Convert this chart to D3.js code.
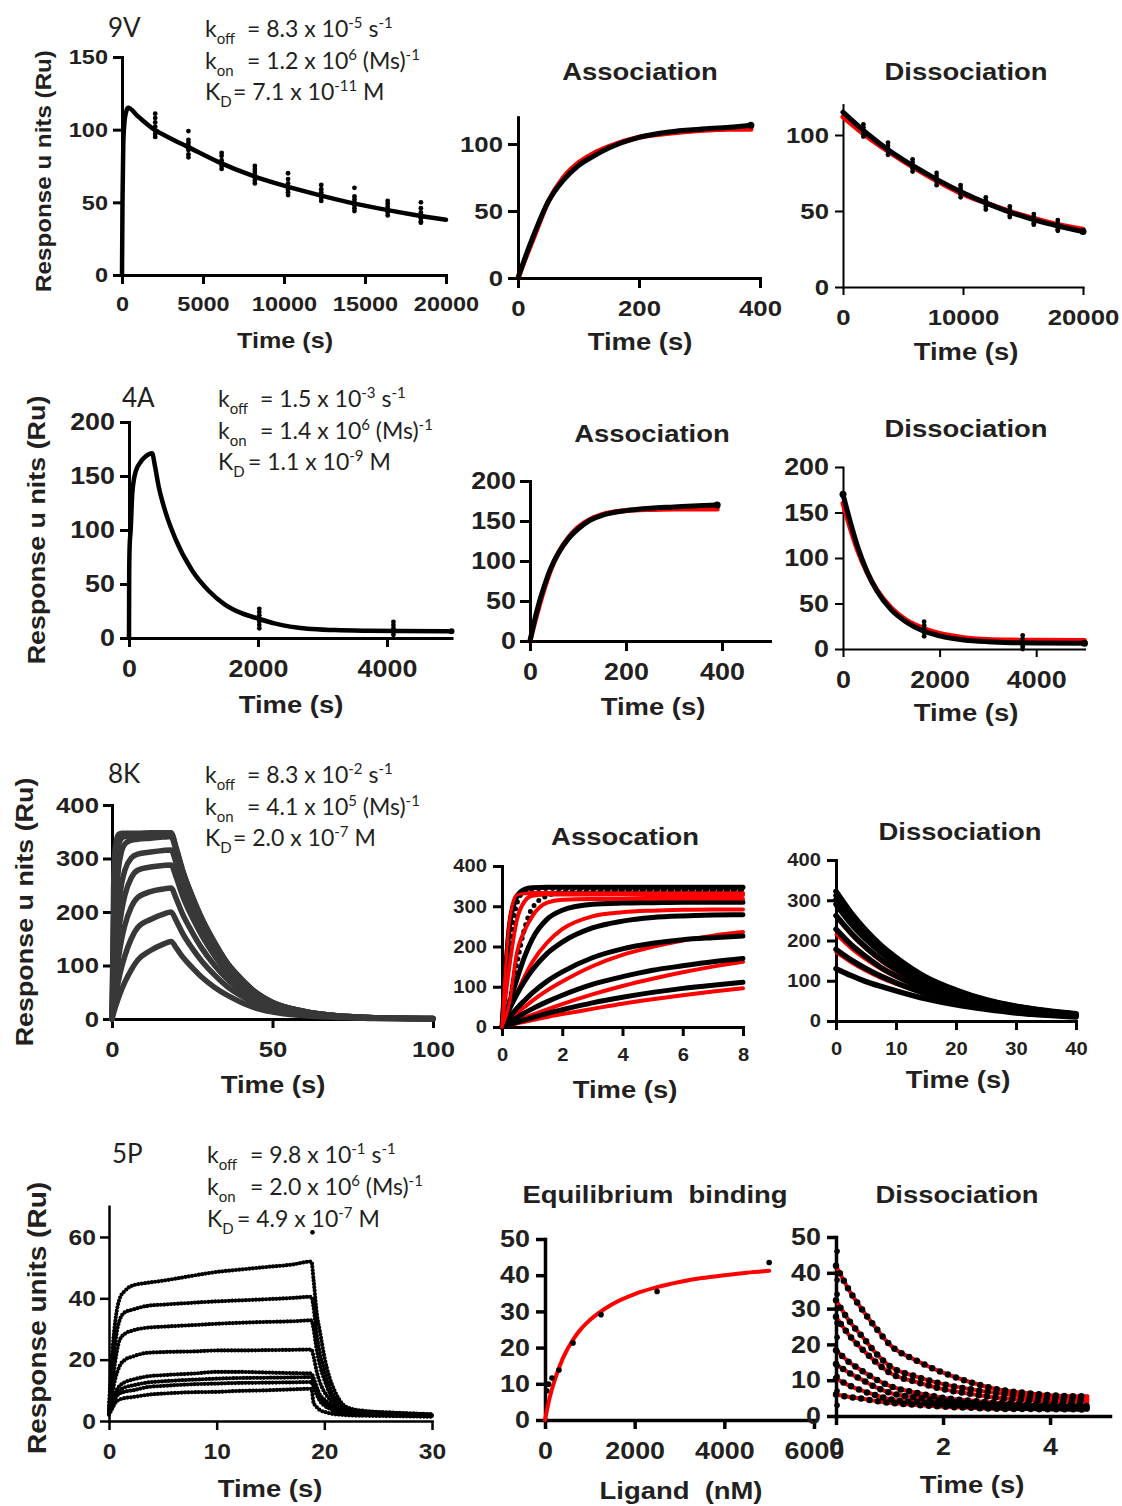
<!DOCTYPE html>
<html><head><meta charset="utf-8">
<script src="https://cdn.jsdelivr.net/npm/d3@7"></script>
<style>
body{margin:0;background:#fff}
svg{display:block}
</style></head><body>
<svg id="c" width="1122" height="1506"></svg>
<script>
// ---------------- DATA ----------------
// Row 1 : 9V
const t9vFull = [0, 30, 80, 150, 250, 370, 1000, 2000, 3000, 4000, 6000, 8000, 10000, 12000, 14000, 16000, 18000, 20000];
const r9vFull = [0, 50, 90, 105, 112, 115, 109, 100, 94, 88.5, 77.5, 68.5, 61.5, 55.5, 50, 45.5, 41.5, 38];
const c9vT = [2050, 4100, 6150, 8200, 10250, 12300, 14350, 16400, 18450];
const c9vV = [[111,108,105,102,99,97,95],[99,93,91,89,86,83,81],[84,82,79,77,75,73],[75,73,71,69,67,65,63],[70,66,63,61,59,57,55],[62,59,57,55,53,51],[60,54,52,50,48,46,44],[51,49,47,45,43,41],[50,46,43,41,39,37,36]];
const t9vA = [0, 10, 25, 50, 75, 100, 125, 150, 200, 250, 300, 350, 385];
const b9vA = [0, 13, 31, 57, 73, 84, 91, 97, 105, 109, 111, 112.5, 114];
const f9vA = [0, 12, 29, 57, 75, 86, 93, 98, 105, 108, 110, 111, 111];
const t9vD = [0, 2000, 4000, 6000, 8000, 10000, 12000, 14000, 16000, 18000, 20000];
const b9vD = [115, 101, 89, 79, 70, 62, 55, 49, 44, 40, 36.5];
const f9vD = [112, 99, 88, 78, 69, 61, 55, 49.5, 45, 41, 38];
const c9vDT = [1700, 3750, 5800, 7800, 9800, 11900, 13900, 15900, 17900];
const c9vDV = [[107,105,103,101,99],[95,93,91,89,87],[84,82,80,78,76],[75,73,71,69,67],[67,65,63,61,59],[59,57,55,53,51],[53,51,49,47,46],[48,46,44,42,41],[44,42,40,38,37]];

// Row 2 : 4A
const t4aFull = [0, 3, 10, 26, 51, 103, 180, 256, 359, 400, 461, 564, 718, 974, 1231, 1487, 1744, 2000, 2256, 2769, 3200, 3700, 4200, 5000];
const r4aFull = [0, 60, 85, 100, 134, 154, 163, 168, 171, 160, 140, 117, 92, 63, 44, 31, 23, 18, 13.5, 8.5, 7.3, 6.7, 6.4, 6.2];
const c4aT = [2020, 4100];
const c4aV = [[27,24,21,18,15,12,9],[15,12,9,6,3]];
const t4aA = [0, 10, 20, 30, 40, 50, 60, 80, 100, 125, 150, 200, 250, 300, 350, 390];
const b4aA = [0, 27, 50, 69, 86, 99.5, 110.5, 128, 140, 151, 157, 163, 166, 167.5, 169, 170];
const f4aA = [0, 24, 46, 66, 84, 99, 111, 129, 142, 152, 158, 163, 164.5, 165, 165, 165];
const t4aD = [0, 150, 300, 500, 700, 1000, 1300, 1650, 2000, 2500, 3000, 3500, 4000, 5000];
const b4aD = [170, 140, 113, 85, 64, 43, 30, 20, 14.5, 10, 8, 7, 6.5, 6.2];
const f4aD = [160, 133, 109, 84, 65, 45, 32, 23, 17, 12.5, 10.5, 9.8, 9.5, 9.3];
const c4aDT = [1680, 3720];
const c4aDV = [[30,26,22,18,14],[15,11,7,3,0]];

// Row 3 : 8K
const t8kFull = [0, 0.5, 1, 2, 3, 4, 6, 8, 12, 16, 18.4, 20, 22, 25, 28, 32, 36, 40, 45, 50, 60, 70, 80, 100];
const r8kFull = [
  [0,247,319,345,347,347,347,347,348,348,348,320,278,230,188,143,104,77,49,31,14,6,3,1],
  [0,180,266,325,338,341,342,343,344,345,346,318,277,228,187,142,104,76,48,31,14,6,3,1],
  [0,120,199,280,314,327,334,336,338,340,341,314,273,225,184,140,102,75,48,31,14,6,3,1],
  [0,75,132,208,253,278,301,308,312,315,316,291,253,209,171,130,95,70,44,28,13,6,3,1],
  [0,50,95,160,202,231,264,278,284,287,288,265,230,190,156,118,86,63,40,26,12,5,2,1],
  [0,35,65,113,149,175,209,227,238,243,245,225,196,162,132,100,74,54,34,22,10,4,2,0.5],
  [0,20,39,71,97,118,150,171,186,196,200,184,160,132,108,82,60,44,28,18,8,4,2,0.5],
  [0,11,21,39,55,69,92,110,128,140,145,133,116,96,78,59,44,32,20,13,6,3,1,0.3]
];
const t8kA = [0, 0.25, 0.5, 0.75, 1, 1.5, 2, 3, 4, 5, 6, 7, 8];
const b8kA = [
  [0,250,325,342,346,347,347,347,347,347,347,347,347],
  [0,200,308,338,343,344,344,344,343,343,342,342,342],
  [0,64,160,245,295,326,335,337,338,338,338,338,338],
  [0,60,120,175,218,268,290,305,308,309,310,310,310],
  [0,45,82,114,141,183,211,246,263,272,276,278,279],
  [0,25,47,66,84,114,137,172,194,208,217,222,226],
  [0,12.5,24,35,45,63,79,106,125,141,152,162,170],
  [0,6,12,18,23,34,43,60,74,86,96,104,111]
];
const b8kDotted = [false, true, true, false, false, false, false, false];
const f8kA = [
  [0,263,328,332,333,333,333,333,333,333,333,333,333],
  [0,155,268,312,326,329,329,329,329,328,328,328,328],
  [0,60,185,240,275,309,316,318,318,318,318,318,318],
  [0,45,85,125,160,210,243,275,285,289,291,292,292],
  [0,18,35,50,65,91,113,151,179,199,215,227,236],
  [0,8,16,23,30,44,57,81,102,120,136,150,162],
  [0,4,9,13,17,25,32,45,58,69,79,88,96]
];
const t8kD = [0, 2.5, 5, 7.5, 10, 15, 20, 25, 30, 35, 40];
const b8kD = [
  [322,269,225,188,158,109,77,53,37,26,18],
  [312,261,218,183,153,106,75,51,36,25,17],
  [302,252,211,177,148,103,72,50,35,24,17],
  [290,242,203,170,142,99,70,48,33,23,16],
  [262,219,183,153,128,89,63,43,30,21,14],
  [228,190,160,133,112,78,55,38,26,18,13],
  [178,152,130,111,95,68,49,35,25,17,12],
  [130,113,98,86,75,55,40,29,20,14,10]
];
const f8kD = [
  [258,214,178,148,124,86,61,42,29,20,14],
  [215,180,152,128,108,77,55,38,27,19,13],
  [170,145,124,106,91,66,48,34,24,17,12]
];

// Row 4 : 5P
const t5pFull = [0, 0.3, 0.6, 1, 1.5, 2.2, 3.5, 5.3, 8, 10, 12, 14.6, 17, 18.8, 19, 19.3, 19.6, 20, 20.5, 21, 21.7, 22.5, 24, 26, 28, 30];
const r5pFull = [
  [5,22,33,40,42.5,44.2,45,45.9,47.5,48.6,49.3,50.2,51,52,46,35,29,21,14,9.5,5.5,4,3.2,2.8,2.5,2.2],
  [4,15,26,33,35.5,36.3,37.5,38,38.6,39,39.3,39.7,40.1,40.5,37,28,22,16.5,11,7.5,4.5,3.5,3,2.6,2.3,2],
  [4,12,20,26.5,28.5,29.5,30.4,30.8,31.3,31.7,32,32.3,32.5,32.8,30,23,18,13.5,9,6.5,4,3.2,2.8,2.5,2.2,2],
  [3,9,14,18,20,21,22.2,22.5,22.7,23,23,23.1,23.2,23.3,21,16,12.5,9.5,7,5,3.5,3,2.6,2.4,2.1,1.9],
  [3,7,9.5,11.5,12.7,13.5,14.5,15,15.5,16,16,15.8,15.6,15.5,14,11,8.5,7,5.5,4,3,2.6,2.4,2.2,2,1.8],
  [3,6,8.5,10,11,11.6,12.5,13,13.5,13.8,14,14.1,14.2,14.3,12.5,9.5,7.5,6,4.5,3.5,2.8,2.4,2.2,2,1.9,1.7],
  [2.5,5,7.5,9,9.6,10,11,11.5,12,12.2,12.4,12.5,12.6,12.7,11,8.5,6.5,5,4,3,2.5,2.2,2,1.9,1.8,1.6],
  [2,4,6,7,7.5,7.8,8.5,9,9.4,9.5,9.8,10,10.3,10.5,6,4.5,3.5,3,2.5,2.2,2,1.8,1.7,1.6,1.5,1.4]
];
const o5pT = [18.9];
const o5pV = [61.5];
const ligand = [39, 78, 156, 312, 625, 1250, 2500, 5000];
const eqResp = [8.1, 9.9, 11.6, 13.8, 21.3, 29.1, 35.5, 43.5];
const fitL = [0, 50, 100, 200, 400, 600, 800, 1000, 1500, 2000, 2500, 3000, 3500, 4000, 4500, 5000];
const fitR = [0, 3.1, 5.9, 10.4, 17.1, 21.7, 25.1, 27.6, 32, 34.8, 36.7, 38.1, 39.2, 40, 40.7, 41.2];
const t5pD = [0, 0.25, 0.5, 0.75, 1, 1.5, 2, 2.5, 3, 3.5, 4, 4.5, 4.7];
const f5pD = [
  [42,35,29.5,24.5,20,15.5,12.1,9.5,7.5,6.5,5.8,5.5,5.5],
  [32.3,26.5,22,17.5,14,11,8.9,7.5,6.4,5.6,5.1,4.8,4.7],
  [27.7,22.5,18.5,15,12.1,9.5,7.5,6.2,5.1,4.6,4.2,4,4],
  [18.4,15,12.5,10.2,8.4,6.5,5.1,4.3,3.7,3.3,3,2.8,2.8],
  [14.5,12,10,8,6.5,5.2,4.2,3.6,3.1,2.8,2.6,2.5,2.5],
  [10.5,8.5,7,5.8,4.7,3.9,3.3,2.9,2.5,2.3,2.2,2.1,2.1],
  [6,5.3,4.8,4.2,3.7,3.1,2.6,2.3,2,1.95,1.9,1.85,1.85]
];
const c5pD0 = [46, 38, 34, 30, 26, 22, 18, 14, 11, 7, 3];

// Labels
const sampleNames = ["9V", "4A", "8K", "5P"];
const annRows = [
  [["k","off","= 8.3 x 10","-5"," s","-1"],["k","on","= 1.2 x 10","6"," (Ms)","-1"],["K","D","= 7.1 x 10","-11"," M",""]],
  [["k","off","= 1.5 x 10","-3"," s","-1"],["k","on","= 1.4 x 10","6"," (Ms)","-1"],["K","D","= 1.1 x 10","-9"," M",""]],
  [["k","off","= 8.3 x 10","-2"," s","-1"],["k","on","= 4.1 x 10","5"," (Ms)","-1"],["K","D","= 2.0 x 10","-7"," M",""]],
  [["k","off","= 9.8 x 10","-1"," s","-1"],["k","on","= 2.0 x 10","6"," (Ms)","-1"],["K","D","= 4.9 x 10","-7"," M",""]]
];
const yLabels = ["Response u nits (Ru)", "Response u nits (Ru)", "Response u nits (Ru)", "Response units (Ru)"];

// ---------------- DRAWING ----------------
const svg = d3.select('#c');
const BF = '"Liberation Sans", Arial, Helvetica, sans-serif';
const AF = 'Lato, "Liberation Sans", sans-serif';
const SX = 1.12;
const INK = '#231f20';
const RED = '#ff0000';

function panel(o) {
  const x = d3.scaleLinear().domain(o.xd).range(o.xr);
  const y = d3.scaleLinear().domain(o.yd).range(o.yr);
  const g = svg.append('g');
  const ax = g.append('g').attr('transform', `translate(0,${o.yr[0]})`)
    .call(d3.axisBottom(x).tickValues(o.xt).tickSize(o.ts).tickSizeOuter(0).tickPadding(o.xp).tickFormat(d3.format('d')));
  const ay = g.append('g').attr('transform', `translate(${o.xr[0]},0)`)
    .call(d3.axisLeft(y).tickValues(o.yt).tickSize(o.ts).tickSizeOuter(0).tickPadding(o.yp).tickFormat(d3.format('d')));
  [[ax,false],[ay,true]].forEach(([a,left]) => {
    a.select('.domain').attr('stroke','#000').attr('stroke-width',o.aw).attr('stroke-linecap','square');
    a.selectAll('.tick line').attr('stroke','#000').attr('stroke-width',o.aw);
    const t = a.selectAll('.tick text').attr('fill',INK).style('font-family',BF).style('font-weight','bold').style('font-size',o.fs+'px');
    if (left) t.attr('x', -(o.ts+o.yp)/SX);
    t.attr('transform', `scale(${SX},1)`);
  });
  return {x, y, g};
}
function line(p, xs, ys, c, w, dash) {
  const gen = d3.line().x((d,i)=>p.x(xs[i])).y(d=>p.y(d)).curve(d3.curveMonotoneX);
  p.g.append('path').datum(ys).attr('d', gen).attr('fill','none').attr('stroke', c).attr('stroke-width', w)
    .attr('stroke-linejoin','round').attr('stroke-linecap','round').attr('stroke-dasharray', dash || null);
}
function dots(p, xs, ys, r) {
  p.g.append('g').selectAll('circle').data(ys).join('circle')
    .attr('cx', (d,i)=>p.x(xs[i])).attr('cy', d=>p.y(d)).attr('r', r).attr('fill','#000');
}
function cluster(p, t, vals, r) {
  p.g.append('g').selectAll('circle').data(vals).join('circle')
    .attr('cx', p.x(t)).attr('cy', d=>p.y(d)).attr('r', r).attr('fill','#000');
}
function addText(x, y, str, fs, opts = {}) {
  return svg.append('text')
    .attr('transform', `translate(${x},${y})${opts.rot ? ' rotate(-90)' : ''} scale(${opts.sx ?? SX},1)`)
    .attr('text-anchor', opts.anchor || 'middle')
    .style('font-family', opts.ff || BF).style('font-weight', opts.w || 'bold')
    .style('font-size', fs + 'px').style('white-space', 'pre').attr('fill', INK).text(str);
}
function annot(x, y0, lh, rows, eqOff) {
  rows.forEach((r, i) => {
    const t = svg.append('text').attr('x', x).attr('y', y0 + i*lh)
      .style('font-family', AF).style('font-size', '23px').style('white-space','pre').attr('fill', INK);
    t.append('tspan').text(r[0]);
    t.append('tspan').attr('dy', 7).style('font-size', '15px').text(r[1]);
    t.append('tspan').attr('x', x + (i < 2 ? eqOff[0] : eqOff[1])).attr('dy', -7).text(r[2]);
    t.append('tspan').attr('dy', -9).style('font-size', '15px').text(r[3]);
    t.append('tspan').attr('dy', 9).text(r[4]);
    if (r[5]) t.append('tspan').attr('dy', -9).style('font-size', '15px').text(r[5]);
  });
}

// ===== Row 1 =====
{
  const p = panel({xr:[122,446], yr:[275,57], xd:[0,20000], yd:[0,150], xt:[0,5000,10000,15000,20000], yt:[0,50,100,150], fs:21, aw:3, ts:9, xp:12, yp:5});
  line(p, t9vFull, r9vFull, '#000', 4.5);
  c9vT.forEach((t,i)=>cluster(p, t, c9vV[i], 2.4));
  const q = panel({xr:[518,760], yr:[278,117.2], xd:[0,400], yd:[0,120], xt:[0,200,400], yt:[0,50,100], fs:23, aw:3, ts:10, xp:12, yp:5});
  line(q, t9vA, f9vA, RED, 5);
  line(q, t9vA, b9vA, '#000', 5);
  dots(q, [385], [114], 3.5);
  const r = panel({xr:[843,1083], yr:[287,104.6], xd:[0,20000], yd:[0,120], xt:[0,10000,20000], yt:[0,50,100], fs:23, aw:2, ts:8, xp:14, yp:6});
  line(r, t9vD, f9vD, RED, 5);
  line(r, t9vD, b9vD, '#000', 5);
  c9vDT.forEach((t,i)=>cluster(r, t, c9vDV[i], 2.4));
  dots(r, [20000], [36.5], 3.5);
}
// ===== Row 2 =====
{
  const p = panel({xr:[129,451.5], yr:[638,422], xd:[0,5000], yd:[0,200], xt:[0,2000,4000], yt:[0,50,100,150,200], fs:24, aw:3, ts:9, xp:13, yp:5});
  line(p, t4aFull, r4aFull, '#000', 4.5);
  c4aT.forEach((t,i)=>cluster(p, t, c4aV[i], 2.4));
  dots(p, [5000], [6.2], 3);
  const q = panel({xr:[530,770], yr:[641,481], xd:[0,500], yd:[0,200], xt:[0,200,400], yt:[0,50,100,150,200], fs:24, aw:3, ts:10, xp:12, yp:4});
  line(q, t4aA, f4aA, RED, 5);
  line(q, t4aA, b4aA, '#000', 5);
  dots(q, [390], [170], 3.5);
  const r = panel({xr:[843,1084.5], yr:[649,467], xd:[0,5000], yd:[0,200], xt:[0,2000,4000], yt:[0,50,100,150,200], fs:24, aw:2, ts:8, xp:14, yp:6});
  line(r, t4aD, f4aD, RED, 5);
  line(r, t4aD, b4aD, '#000', 5);
  c4aDT.forEach((t,i)=>cluster(r, t, c4aDV[i], 2.4));
  dots(r, [0, 5000], [170, 6.2], 3.5);
}
// ===== Row 3 =====
{
  const p = panel({xr:[112,433], yr:[1019,805], xd:[0,100], yd:[0,400], xt:[0,50,100], yt:[0,100,200,300,400], fs:23, aw:3, ts:9, xp:13, yp:4});
  r8kFull.forEach(v => line(p, t8kFull, v, '#383838', 5.5));
  const q = panel({xr:[502,743], yr:[1027,866], xd:[0,8], yd:[0,400], xt:[0,2,4,6,8], yt:[0,100,200,300,400], fs:18, aw:3, ts:9, xp:12, yp:6});
  f8kA.forEach(v => line(q, t8kA, v, RED, 4));
  b8kA.forEach((v,i) => line(q, t8kA, v, '#000', 5, b8kDotted[i] ? '0 7' : null));
  f8kA.slice(0,3).forEach(v => line(q, t8kA, v, RED, 3));
  const r = panel({xr:[836,1076], yr:[1021,860], xd:[0,40], yd:[0,400], xt:[0,10,20,30,40], yt:[0,100,200,300,400], fs:18, aw:3, ts:9, xp:12, yp:6});
  f8kD.forEach(v => line(r, t8kD, v, RED, 3));
  b8kD.forEach(v => line(r, t8kD, v, '#000', 5.5));
}
// ===== Row 4 =====
{
  const p = panel({xr:[109,432], yr:[1421,1206.3], xd:[0,30], yd:[0,70], xt:[0,10,20,30], yt:[0,20,40,60], fs:22, aw:2.5, ts:9, xp:13, yp:4});
  r5pFull.forEach(v => line(p, t5pFull, v, '#000', 4.2, '0 3.4'));
  dots(p, o5pT, o5pV, 2.3);
  const q = panel({xr:[545,814], yr:[1420,1239], xd:[0,6000], yd:[0,50], xt:[0,2000,4000,6000], yt:[0,10,20,30,40,50], fs:24, aw:3.5, ts:9, xp:13, yp:6});
  line(q, fitL, fitR, RED, 4);
  dots(q, ligand, eqResp, 2.8);
  const r = panel({xr:[836,1110], yr:[1416,1237], xd:[0,5.12], yd:[0,50], xt:[0,2,4], yt:[0,10,20,30,40,50], fs:24, aw:3.5, ts:9, xp:13, yp:6});
  f5pD.forEach(v => line(r, t5pD, v, RED, 4));
  f5pD.forEach(v => line(r, t5pD, v, '#000', 6.5, '0 8.5'));
  cluster(r, 0.02, c5pD0, 2.8);
}

// ---------------- TEXT ----------------
addText(640, 80, "Association", 24.5);
addText(966, 80, "Dissociation", 24.5);
addText(652, 442, "Association", 24.5);
addText(966, 437, "Dissociation", 24.5);
addText(625, 845, "Assocation", 24.5);
addText(960, 840, "Dissociation", 24.5);
addText(655, 1203, "Equilibrium  binding", 24.5);
addText(957, 1203, "Dissociation", 24.5);
addText(285, 348, "Time (s)", 22.5);
addText(640, 350, "Time (s)", 24.5);
addText(966, 360, "Time (s)", 24.5);
addText(291, 713, "Time (s)", 24.5);
addText(653, 715, "Time (s)", 24.5);
addText(966, 721, "Time (s)", 24.5);
addText(273, 1093, "Time (s)", 24.5);
addText(625, 1098, "Time (s)", 24.5);
addText(958, 1088, "Time (s)", 24.5);
addText(270, 1497, "Time (s)", 24.5);
addText(681, 1499, "Ligand  (nM)", 24.5);
addText(972, 1493, "Time (s)", 24.5);
addText(51, 171, yLabels[0], 21.6, {rot:true});
addText(45, 530, yLabels[1], 24, {rot:true});
addText(33, 912, yLabels[2], 24, {rot:true});
addText(46, 1318, yLabels[3], 25, {rot:true});
addText(108, 37, sampleNames[0], 26, {anchor:'start', ff:AF, w:'normal', sx:1});
addText(122, 407, sampleNames[1], 26, {anchor:'start', ff:AF, w:'normal', sx:1});
addText(108, 783, sampleNames[2], 26, {anchor:'start', ff:AF, w:'normal', sx:1});
addText(112, 1163, sampleNames[3], 26, {anchor:'start', ff:AF, w:'normal', sx:1});
annot(205, 37, 31.5, annRows[0], [42, 28]);
annot(218, 407, 31.5, annRows[1], [42, 30]);
annot(205, 783, 31.5, annRows[2], [42, 28]);
annot(207, 1163, 32, annRows[3], [43, 30]);
</script></body></html>
